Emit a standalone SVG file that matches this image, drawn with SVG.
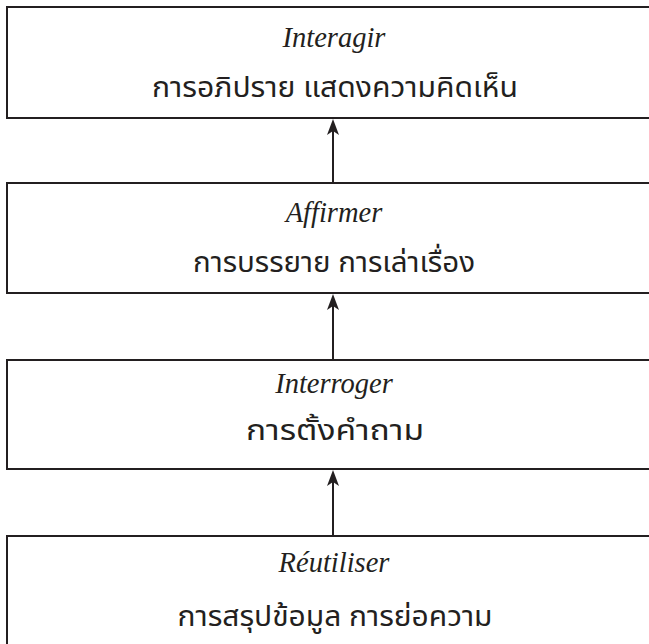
<svg xmlns="http://www.w3.org/2000/svg" width="649" height="644" viewBox="0 0 649 644">
<style>
.box{fill:#fff;stroke:#231f20;stroke-width:2}
.lat{font-family:"Liberation Serif","Times New Roman",serif;font-style:italic;font-size:28.5px;fill:#231f20;text-anchor:middle}
.th{font-family:"Noto Sans Thai","Loma","Garuda","Noto Sans","DejaVu Sans",sans-serif;font-size:28px;fill:#231f20;text-anchor:middle}
.con{stroke:#231f20;stroke-width:2;fill:none}
.ah{fill:#231f20}
</style>
<rect width="649" height="644" fill="#fff"/>
<g id="n1">
<rect class="box" x="7" y="7" width="650" height="111"/>
<text class="lat" x="334" y="47">Interagir</text>
<text class="th" x="335" y="97" textLength="366" lengthAdjust="spacingAndGlyphs">การอภิปราย แสดงความคิดเห็น</text>
</g>
<g id="n2">
<rect class="box" x="7" y="183" width="650" height="110"/>
<text class="lat" x="334" y="222">Affirmer</text>
<text class="th" x="334" y="272" textLength="282" lengthAdjust="spacingAndGlyphs">การบรรยาย การเล่าเรื่อง</text>
</g>
<g id="n3">
<rect class="box" x="7" y="360" width="650" height="109"/>
<text class="lat" x="334" y="393">Interroger</text>
<text class="th" x="335" y="440" textLength="178" lengthAdjust="spacingAndGlyphs">การตั้งคำถาม</text>
</g>
<g id="n4">
<rect class="box" x="7" y="536" width="650" height="120"/>
<text class="lat" x="334" y="572">Réutiliser</text>
<text class="th" x="335" y="626" textLength="315" lengthAdjust="spacingAndGlyphs">การสรุปข้อมูล การย่อความ</text>
</g>
<g id="connectors">
<path class="con" d="M333 183 V128 M333 360 V305 M333 536 V481"/>
<path class="ah" d="M333 119 L339 135 L333 131 L327 135 Z M333 294 L339 310 L333 306 L327 310 Z M333 470 L339 486 L333 482 L327 486 Z"/>
</g>
</svg>
